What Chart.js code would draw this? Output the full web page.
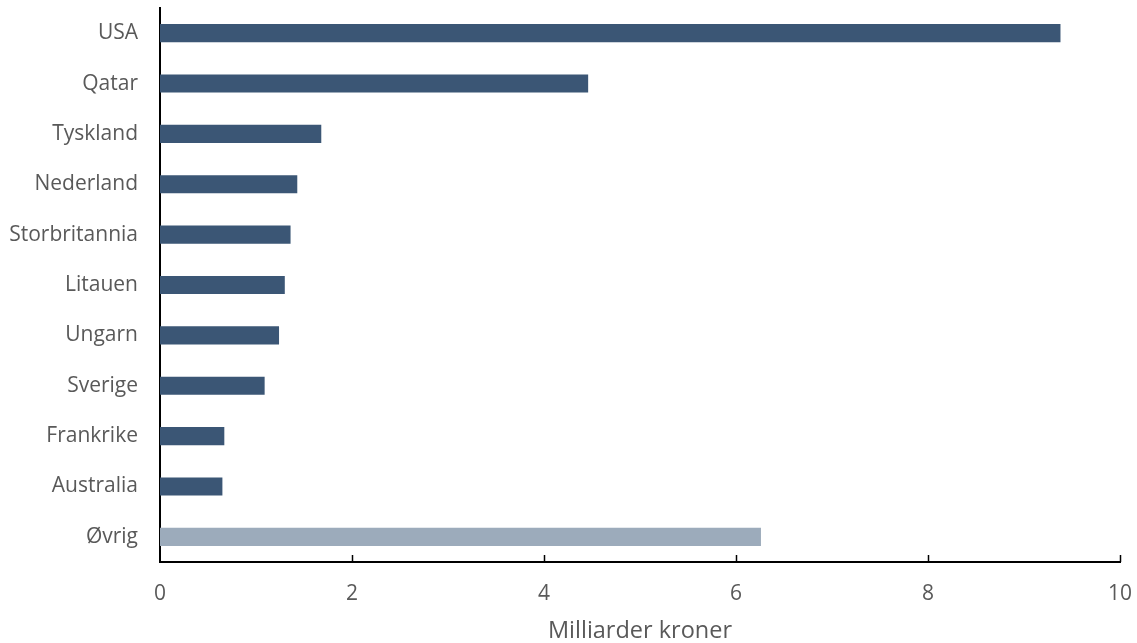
<!DOCTYPE html>
<html>
<head>
<meta charset="utf-8">
<script src="https://cdn.jsdelivr.net/npm/chart.js@4"></script>
<style>
  html, body { margin: 0; padding: 0; background: #fff; }
  #wrap { width: 1137px; height: 643px; }
</style>
</head>
<body>
<div id="wrap"><canvas id="mycanvas"></canvas></div>
<script>
// land og verdi (milliarder kroner)
var countries = ['USA', 'Qatar', 'Tyskland', 'Nederland', 'Storbritannia', 'Litauen', 'Ungarn', 'Sverige', 'Frankrike', 'Australia', 'Øvrig'];
var values = [9.38, 4.46, 1.68, 1.43, 1.36, 1.30, 1.24, 1.09, 0.67, 0.65, 6.26];
var xTicks = [0, 2, 4, 6, 8, 10];
var axisTitle = 'Milliarder kroner';

var darkBlue = '#3b5675';
var lightBlue = '#9cabbb';
var barColors = countries.map(function(c) { return c === 'Øvrig' ? lightBlue : darkBlue; });
var fontFam = "'Open Sans', 'Liberation Sans', sans-serif";

// small tick marks pointing up into the plot
var innerTicks = {
	id: 'innerTicks',
	afterDatasetsDraw: function(chart) {
		var ctx = chart.ctx;
		var x = chart.scales.x;
		var bottom = chart.chartArea.bottom;
		ctx.save();
		ctx.strokeStyle = '#000';
		ctx.lineWidth = 1.5;
		xTicks.forEach(function(t) {
			if (t === 0) return;
			var px = Math.round(x.getPixelForValue(t)) + 0.5;
			ctx.beginPath();
			ctx.moveTo(px, bottom);
			ctx.lineTo(px, bottom - 7);
			ctx.stroke();
		});
		ctx.restore();
	}
};

var chartdata = {
	labels: countries,
	datasets: [{
		data: values,
		backgroundColor: barColors,
		borderWidth: 0,
		categoryPercentage: 1,
		barPercentage: 0.36
	}]
};

new Chart(document.getElementById('mycanvas'), {
	type: 'bar',
	data: chartdata,
	options: {
		indexAxis: 'y',
		responsive: true,
		maintainAspectRatio: false,
		animation: false,
		layout: { padding: { top: 8, right: 17, left: 0, bottom: 0 } },
		plugins: {
			legend: { display: false },
			tooltip: { enabled: false }
		},
		scales: {
			x: {
				min: 0,
				max: 10,
				afterBuildTicks: function(axis) {
					axis.ticks = xTicks.map(function(v) { return { value: v }; });
				},
				afterFit: function(axis) {
					axis.height = 81;
					axis.paddingLeft = 0;
					axis.paddingRight = 0;
				},
				grid: { display: false, drawTicks: false },
				border: { display: true, color: '#000', width: 2 },
				ticks: {
					color: '#595959',
					padding: 19,
					maxRotation: 0,
					font: { family: fontFam, size: 21 }
				},
				title: {
					display: true,
					text: axisTitle,
					color: '#595959',
					padding: { top: 4, bottom: -2 },
					font: { family: fontFam, size: 23.5 }
				}
			},
			y: {
				afterFit: function(axis) {
					axis.width = 160;
					axis.paddingTop = 0;
					axis.paddingBottom = 0;
				},
				grid: { display: false, drawTicks: false },
				border: { display: true, color: '#000', width: 2 },
				ticks: {
					color: '#595959',
					padding: 22,
					font: { family: fontFam, size: 21 }
				}
			}
		}
	},
	plugins: [innerTicks]
});
</script>
</body>
</html>
